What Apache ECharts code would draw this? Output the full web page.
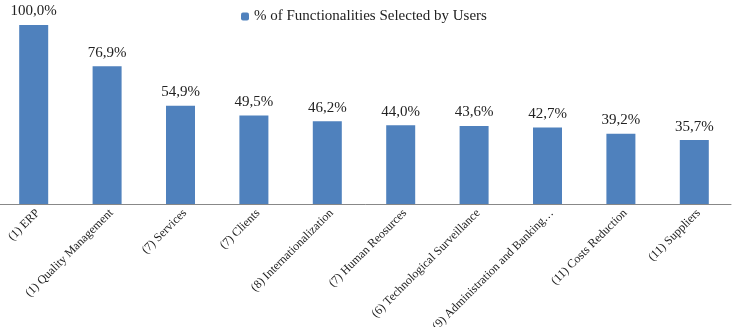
<!DOCTYPE html>
<html>
<head>
<meta charset="utf-8">
<script src="https://cdn.jsdelivr.net/npm/echarts@6/dist/echarts.min.js"></script>
<style>
  html, body { margin: 0; padding: 0; background: #fff; }
  #chart { width: 735px; height: 327px; }
</style>
</head>
<body>
<div id="chart"></div>
<script>
const categories = [
  '(1) ERP',
  '(1) Quality Management',
  '(7) Services',
  '(7) Clients',
  '(8) Internationalization',
  '(7) Human Reosurces',
  '(6) Technological Surveillance',
  '(9) Administration and Banking…',
  '(11) Costs Reduction',
  '(11) Suppliers'
];
const seriesName = '% of Functionalities Selected by Users';
const values = [100.0, 76.9, 54.9, 49.5, 46.2, 44.0, 43.6, 42.7, 39.2, 35.7];

const FONT = '"Liberation Serif", "Times New Roman", serif';
const fmt = v => v.toFixed(1).replace('.', ',') + '%';

const chart = echarts.init(document.getElementById('chart'));
chart.setOption({
  animation: false,
  textStyle: { fontFamily: FONT },
  legend: {
    data: [seriesName],
    top: 4,
    left: 236,
    itemWidth: 8,
    itemHeight: 8,
    itemGap: 4,
    textStyle: { fontFamily: FONT, fontSize: 15, color: '#222' }
  },
  grid: { left: -3, right: 4, top: 25, bottom: 123, outerBoundsMode: 'none', containLabel: false },
  xAxis: {
    type: 'category',
    data: categories,
    axisLine: { lineStyle: { color: '#888', width: 1 } },
    axisTick: { show: false },
    axisLabel: {
      interval: 0,
      rotate: 45,
      margin: 3,
      align: 'right',
      verticalAlign: 'top',
      fontFamily: FONT,
      fontSize: 12,
      color: '#222'
    }
  },
  yAxis: {
    type: 'value',
    min: 0,
    max: 100,
    show: false,
    splitLine: { show: false }
  },
  series: [{
    name: seriesName,
    type: 'bar',
    data: values,
    barWidth: 29,
    itemStyle: { color: '#4F81BD' },
    label: {
      show: true,
      position: 'top',
      distance: 6,
      fontFamily: FONT,
      fontSize: 15,
      color: '#222',
      formatter: p => fmt(p.value)
    }
  }]
});
</script>
</body>
</html>
